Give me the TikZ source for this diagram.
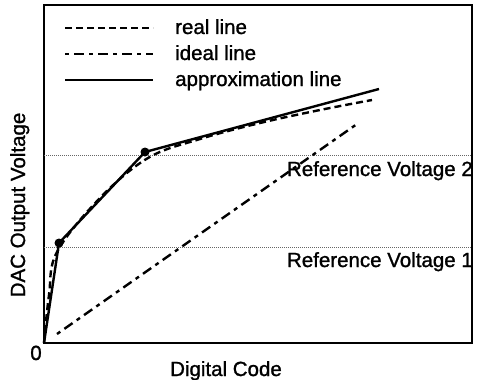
\documentclass[tikz,border=0pt]{standalone}
\usepackage{fontspec}
\setmainfont{Liberation Sans}
\newfontfamily\scanfont[FakeBold=1.2]{Liberation Sans}
\begin{document}
\begin{tikzpicture}[x=1pt,y=-1pt,
  lbl/.style={font=\scanfont\fontsize{20.5}{24}\selectfont, inner sep=0pt},
  curve/.style={line width=2.4pt},
  realdash/.style={curve, dash pattern=on 7pt off 4pt},
  idealdash/.style={curve, dash pattern=on 4pt off 5pt on 10pt off 5pt},
  refline/.style={line width=0.8pt, black!60, dash pattern=on 1pt off 1pt},
  dot/.style={circle, fill=black, inner sep=0pt, minimum size=9pt}]
\useasboundingbox (0,0) rectangle (477,380);
% frame
\draw[line width=2.4pt] (44,5) rectangle (472,343);
% reference lines
\coordinate (r2a) at (44,155); \coordinate (r2b) at (472,155);
\coordinate (r1a) at (44,247); \coordinate (r1b) at (472,247);
\draw[refline] (r2a) -- (r2b);
\draw[refline] (r1a) -- (r1b);
\node[lbl, anchor=base east] (rv2) at (473,176) {Reference Voltage 2};
\node[lbl, anchor=base east] (rv1) at (473,267) {Reference Voltage 1};
% legend
\coordinate (l1a) at (65,28); \coordinate (l1b) at (153,28);
\coordinate (l2a) at (65,54); \coordinate (l2b) at (153,54);
\coordinate (l3a) at (65,80); \coordinate (l3b) at (153,80);
\draw[realdash] (l1a) -- (l1b);
\draw[idealdash] (l2a) -- (l2b);
\draw[curve] (l3a) -- (l3b);
\node[lbl, anchor=base west] (t1) at (175,34) {real line};
\node[lbl, anchor=base west] (t2) at (175,60) {ideal line};
\node[lbl, anchor=base west] (t3) at (175,86) {approximation line};
% curves
\coordinate (o) at (44,343);
\node[dot] (p1) at (59,243) {};
\node[dot] (p2) at (145,152) {};
\coordinate (pe) at (379,89);
\draw[curve, line join=round] (o) -- (p1.center) -- (p2.center) -- (pe);
\draw[realdash] plot[smooth, tension=0.6] coordinates {(44,343) (49,295) (57,252) (100,198) (148,158) (200,139) (260,123) (320,110) (372,100)};
\coordinate (ia) at (57,334); \coordinate (ib) at (357,124);
\draw[idealdash] (ia) -- (ib);
% axis labels
\node[lbl, anchor=base] (zero) at (36,360) {0};
\node[lbl, anchor=base] (xl) at (226,376) {Digital Code};
\node[lbl, anchor=base, rotate=90] (yl) at (25,205) {DAC Output Voltage};
\end{tikzpicture}
\end{document}
